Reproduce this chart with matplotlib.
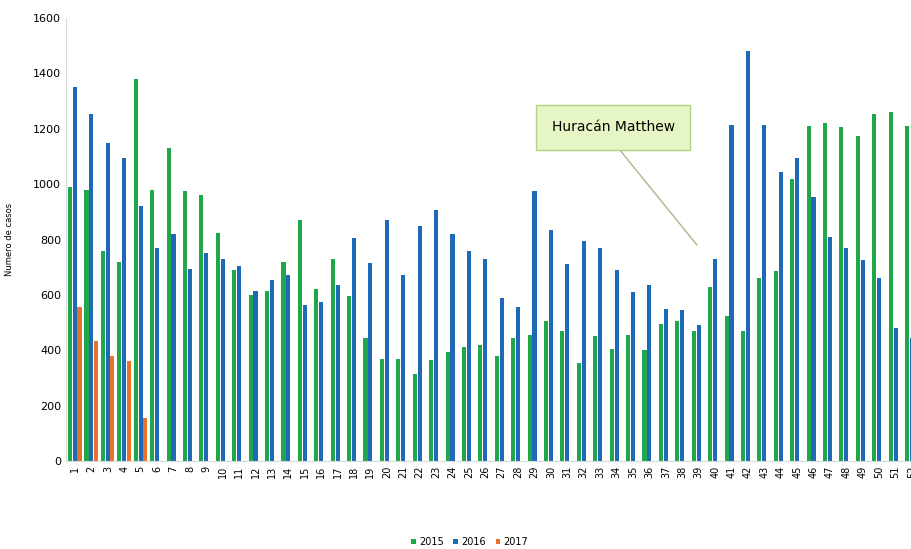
import matplotlib
matplotlib.use("Agg")
import matplotlib.pyplot as plt
import numpy as np

weeks = list(range(1, 53))
y2015 = [990,980,760,720,1380,980,1130,975,960,825,690,600,615,720,870,620,730,595,445,370,
         370,315,365,395,410,420,380,445,455,505,470,355,450,405,455,400,495,505,470,630,
         525,470,660,685,1020,1210,1220,1205,1175,1255,1260,1210]
y2016 = [1350,1255,1150,1095,920,770,820,695,750,730,705,615,655,670,565,575,635,805,715,870,
         670,850,905,820,760,730,590,555,975,835,710,795,770,690,610,635,550,545,490,730,
         1215,1480,1215,1045,1095,955,810,770,725,660,480,445]
y2017 = [555,435,380,360,155]

fig = plt.figure(figsize=(9.12, 5.49), dpi=100)
ax = fig.add_axes([66/912, 88/549, 1 - 66/912, 443/549])
x = np.array(weeks)
w = 0.25
ax.bar(x - 0.3, y2015, w, color="#1ea84a", label="2015")
ax.bar(x, y2016, w, color="#1e69b8", label="2016")
ax.bar(np.arange(1, 6) + 0.27, y2017, w, color="#e8722a", label="2017")

ax.set_ylim(0, 1600)
ax.set_xlim(0.45, 51.97)
ax.set_yticks(range(0, 1601, 200))
ax.set_xticks(weeks)
ax.set_xticklabels([str(v) for v in weeks], rotation=90, fontsize=7)
ax.tick_params(axis="y", labelsize=8, length=0)
ax.tick_params(axis="x", length=0)
for s in ["top", "right"]:
    ax.spines[s].set_visible(False)
ax.spines["left"].set_color("#d9d9d9")
ax.spines["bottom"].set_color("#d9d9d9")
ax.set_ylabel("Numero de casos", fontsize=6)
ax.yaxis.set_label_coords(-0.062, 0.5)

ax.annotate("Huracán Matthew", xy=(38.9, 780), xytext=(33.8, 1205),
            ha="center", va="center", fontsize=10,
            bbox=dict(boxstyle="square,pad=1.1", fc="#e6f5c4", ec="#b5cf86", lw=1),
            arrowprops=dict(arrowstyle="-", color="#a8b88a", lw=1, shrinkA=0, shrinkB=0,
                            relpos=(0.45, 0)))

fig.legend(loc="lower center", bbox_to_anchor=(0.515, -0.012), ncol=3, frameon=False,
           fontsize=7, handlelength=0.5, handleheight=0.5, handletextpad=0.3, columnspacing=1)
fig.savefig("out.png", dpi=100)
